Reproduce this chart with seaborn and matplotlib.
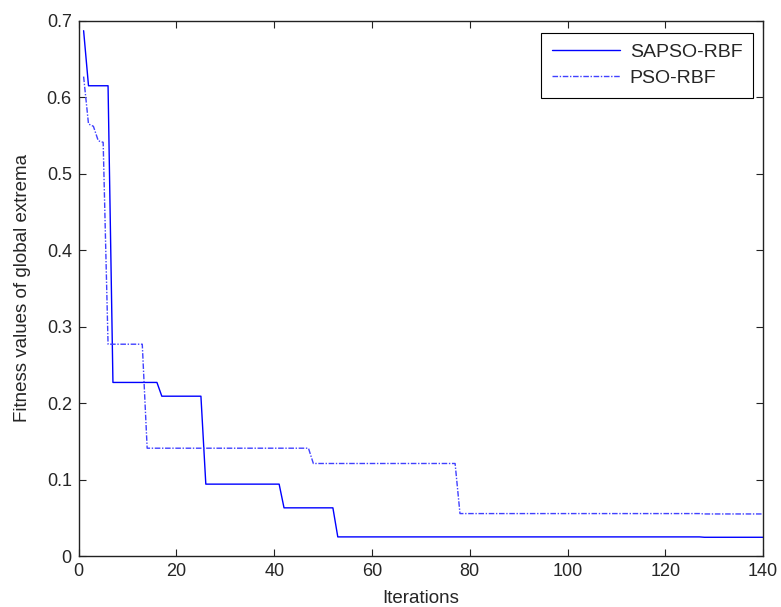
import matplotlib.pyplot as plt
import pandas as pd
import seaborn as sns

# step points (iteration, fitness of global extremum)
sapso_iter = [1, 2, 6, 7, 16, 17, 25, 26, 41, 42, 52, 53, 127, 128, 140]
sapso_fit = [0.687, 0.615, 0.615, 0.227, 0.227, 0.209, 0.209, 0.094, 0.094,
             0.063, 0.063, 0.025, 0.025, 0.0245, 0.0245]

pso_iter = [1, 2, 3, 4, 5, 6, 13, 14, 47, 48, 77, 78, 127, 128, 140]
pso_fit = [0.627, 0.565, 0.562, 0.543, 0.541, 0.277, 0.277, 0.141, 0.141,
           0.121, 0.121, 0.0555, 0.0555, 0.055, 0.055]

x_ticks = [0, 20, 40, 60, 80, 100, 120, 140]
y_ticks = [0, 0.1, 0.2, 0.3, 0.4, 0.5, 0.6, 0.7]

sapso_df = pd.DataFrame({"iteration": sapso_iter, "fitness": sapso_fit})
pso_df = pd.DataFrame({"iteration": pso_iter, "fitness": pso_fit})

sns.set_style("ticks")
plt.rcParams["font.family"] = ["Liberation Sans", "DejaVu Sans"]
plt.rcParams["xtick.direction"] = "in"
plt.rcParams["ytick.direction"] = "in"

fig = plt.figure(figsize=(7.81, 6.07), dpi=100)
ax = fig.add_axes([0.1008, 0.084, 0.8762, 0.8818])

sns.lineplot(x="iteration", y="fitness", data=sapso_df, color="#0000ff", lw=1.0,
             ax=ax, label="SAPSO-RBF", errorbar=None, sort=False)
sns.lineplot(x="iteration", y="fitness", data=pso_df, color="#4040ff", lw=1.0,
             ax=ax, label="PSO-RBF", errorbar=None, sort=False,
             dashes=False, linestyle=(0, (4, 1.2, 1, 1.2)))

ax.set_xlim(0, 140)
ax.set_ylim(0, 0.7)
ax.set_xticks(x_ticks)
ax.set_yticks(y_ticks)
ax.set_xticklabels([str(t) for t in x_ticks])
ax.set_yticklabels(["0"] + [f"{t:.1f}" for t in y_ticks[1:]])
ax.tick_params(labelsize=13, length=5, width=0.8, top=True, right=True,
               color="#222222", pad=5)
for side in ax.spines.values():
    side.set_visible(True)
    side.set_linewidth(1.0)
    side.set_color("#222222")

ax.set_xlabel("Iterations", fontsize=13.5, labelpad=7)
ax.set_ylabel("Fitness values of global extrema", fontsize=13.5, labelpad=11)

leg = ax.legend(loc="upper right", fontsize=14, frameon=True, fancybox=False,
                edgecolor="black", framealpha=1, borderpad=0.55,
                handlelength=3.5, handletextpad=0.5, labelspacing=0.45,
                borderaxespad=0, bbox_to_anchor=(0.9855, 0.978))
leg.get_frame().set_linewidth(0.8)

fig.savefig("out.png", dpi=100)
